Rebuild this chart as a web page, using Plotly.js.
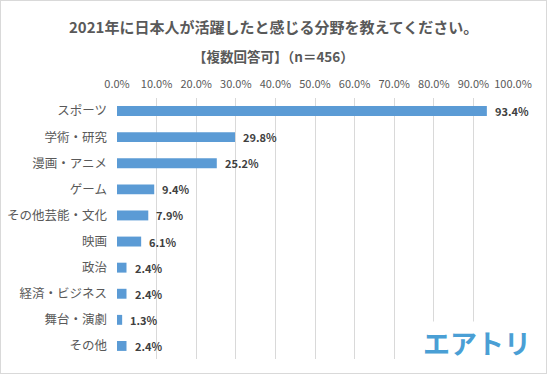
<!DOCTYPE html>
<html><head><meta charset="utf-8">
<script src="https://cdn.plot.ly/plotly-3.0.1.min.js"></script>
<style>
html,body{margin:0;padding:0;background:#fff;}
#wrap{width:547px;height:374px;box-sizing:border-box;border:1px solid #d9d9d9;}
#chart{width:545px;height:372px;}
</style></head>
<body><div id="wrap"><div id="chart"></div></div>
<script>
const categories = ["スポーツ","学術・研究","漫画・アニメ","ゲーム","その他芸能・文化","映画","政治","経済・ビジネス","舞台・演劇","その他"];
const values = [93.4,29.8,25.2,9.4,7.9,6.1,2.4,2.4,1.3,2.4];
const titleText = "2021年に日本人が活躍したと感じる分野を教えてください。";
const subtitleText = "【複数回答可】（n＝456）";
const logoText = "エアトリ";

const font = "'Noto Sans CJK JP', 'Noto Sans', sans-serif";
const trace = {
  type:'bar', orientation:'h', x: values, y: categories,
  marker:{color:'#5B9BD5'}, hoverinfo:'none'
};
const anns = categories.map((c,i)=>({
  x: values[i], y: c, xref:'x', yref:'y', text: values[i].toFixed(1)+'%',
  showarrow:false, xanchor:'left', yanchor:'middle', xshift:6,
  font:{family:font, size:11, color:'#404040', weight:'bold'}
}));
anns.push({x:0.396, xref:'paper', y:1, yref:'paper', yshift:72, xanchor:'center', yanchor:'middle', showarrow:false,
  text:'<b>'+titleText+'</b>', font:{family:font, size:15, color:'#595959'}});
anns.push({x:0.396, xref:'paper', y:1, yref:'paper', yshift:42, xanchor:'center', yanchor:'middle', showarrow:false,
  text:'<b>'+subtitleText+'</b>', font:{family:font, size:13.5, color:'#595959'}});
anns.push({x:0.909, xref:'paper', y:0, yref:'paper', yshift:17, xanchor:'center', yanchor:'middle', showarrow:false,
  text:'<b>'+logoText+'</b>', bgcolor:'#ffffff', font:{family:font, size:27, color:'#4A9FD5', weight:900}});

const layout = {
  width:545, height:372, margin:{l:115.5, r:33, t:97, b:14},
  paper_bgcolor:'#fff', plot_bgcolor:'#fff', showlegend:false,
  bargap:0.62,
  xaxis:{side:'top', range:[0,100], dtick:10, tick0:0, tickformat:'.1f', ticksuffix:'%',
    showgrid:true, gridcolor:'#d9d9d9', gridwidth:1, zeroline:false, showline:false, ticks:'',
    ticklabelstandoff:7,
    tickfont:{family:font, size:11, color:'#595959'}, fixedrange:true},
  yaxis:{autorange:'reversed', showgrid:false, zeroline:false, showline:false, ticks:'',
    ticklabelstandoff:9,
    tickfont:{family:font, size:12.5, color:'#595959'}, fixedrange:true},
  annotations: anns
};
Plotly.newPlot('chart',[trace],layout,{displayModeBar:false,staticPlot:true});
</script></body></html>
